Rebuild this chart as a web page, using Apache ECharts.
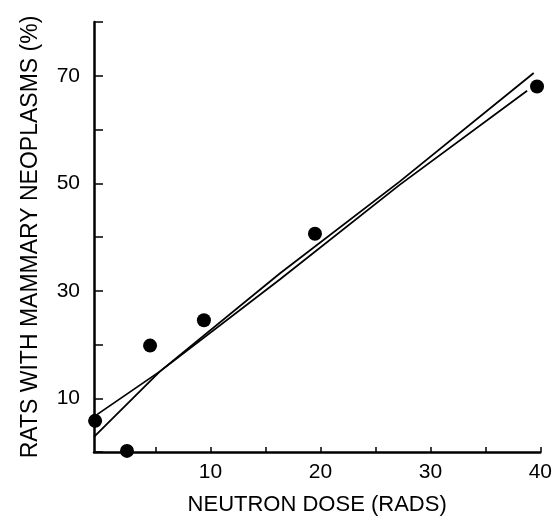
<!DOCTYPE html>
<html>
<head>
<meta charset="utf-8">
<script src="https://cdn.jsdelivr.net/npm/echarts@6/dist/echarts.min.js"></script>
<style>html,body{margin:0;padding:0;background:#fff}#c{width:555px;height:521px}</style>
</head>
<body>
<div id="c"></div>
<script>
// Observed data points: [neutron dose (rads), rats with mammary neoplasms (%)]
var dose = [-0.5, 2.4, 4.5, 9.4, 19.5, 39.7];
var incidence = [5.8, 0.2, 19.8, 24.5, 40.6, 68.0];
// Fitted line A (starts at control point, ends at 40-rad point)
var lineAx = [-0.3, 5.4, 16.3, 27.2, 38.8];
var lineAy = [7.0, 15.0, 32.1, 49.7, 67.2];
// Fitted line B (starts low, ends above)
var lineBx = [-0.6, 5.4, 16.3, 27.2, 39.4];
var lineBy = [2.8, 15.0, 33.2, 50.3, 70.5];
// Axis ticks / labels
var xTicks = [5, 10, 15, 20, 25, 30, 35, 40];
var xLabels = [10, 20, 30, 40];
var yLabels = [10, 30, 50, 70];

function zip(a, b) { return a.map(function (v, i) { return [v, b[i]]; }); }

var font = 'Liberation Sans, Arial, sans-serif';
var chart = echarts.init(document.getElementById('c'), null, {renderer: 'canvas'});
chart.setOption({
  animation: false,
  backgroundColor: '#fff',
  grid: {left: 94, right: 14, top: 22, bottom: 68},
  xAxis: {
    type: 'value', min: -0.6, max: 40,
    name: 'NEUTRON DOSE (RADS)', nameLocation: 'middle', nameGap: 42,
    nameTextStyle: {fontFamily: font, fontSize: 22, color: '#000'},
    axisLine: {show: true, onZero: false, lineStyle: {color: '#000', width: 2.5}},
    axisTick: {show: true, inside: true, length: 5, customValues: xTicks, lineStyle: {color: '#000', width: 1.5}},
    axisLabel: {customValues: xLabels, fontFamily: font, fontSize: 21, color: '#000', margin: 10},
    splitLine: {show: false}
  },
  yAxis: {
    type: 'value', min: 0, max: 80, interval: 10,
    name: 'RATS WITH MAMMARY NEOPLASMS (%)', nameLocation: 'middle', nameGap: 52,
    nameTextStyle: {fontFamily: font, fontSize: 23, color: '#000'},
    axisLine: {show: true, onZero: false, lineStyle: {color: '#000', width: 2.5}},
    axisTick: {show: true, inside: true, length: 9, lineStyle: {color: '#000', width: 1.5}},
    axisLabel: {
      fontFamily: font, fontSize: 21, color: '#000', margin: 14,
      formatter: function (v) { return yLabels.indexOf(v) >= 0 ? String(v) : ''; }
    },
    splitLine: {show: false}
  },
  series: [
    {type: 'line', data: zip(lineAx, lineAy), symbol: 'none', lineStyle: {color: '#000', width: 1.8}, z: 2},
    {type: 'line', data: zip(lineBx, lineBy), symbol: 'none', lineStyle: {color: '#000', width: 1.8}, z: 2},
    {type: 'scatter', data: zip(dose, incidence), symbol: 'circle', symbolSize: 14, itemStyle: {color: '#000', opacity: 1}, z: 3}
  ]
});
</script>
</body>
</html>
